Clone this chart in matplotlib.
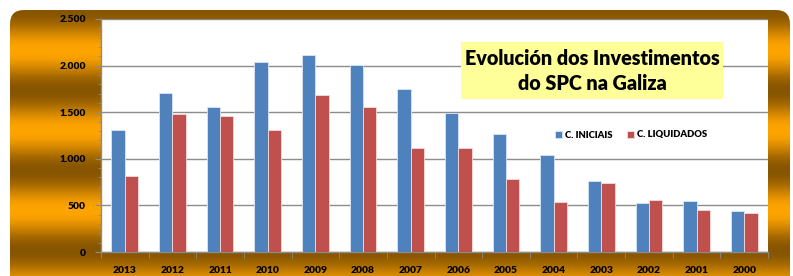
import numpy as np
import matplotlib
matplotlib.use("Agg")
import matplotlib.pyplot as plt
from matplotlib.patches import FancyBboxPatch, Rectangle
from matplotlib.ticker import FuncFormatter, MultipleLocator, FixedLocator

years = ["2013", "2012", "2011", "2010", "2009", "2008", "2007",
         "2006", "2005", "2004", "2003", "2002", "2001", "2000"]
iniciais = [1307, 1702, 1555, 2038, 2113, 2002, 1748,
            1494, 1261, 1042, 760, 530, 548, 440]
liquidados = [813, 1476, 1455, 1307, 1680, 1555, 1121,
              1114, 784, 541, 738, 555, 448, 423]
title_text = "Evolución dos Investimentos\ndo SPC na Galiza"
series_names = ["C. INICIAIS", "C. LIQUIDADOS"]

W, H = 793, 276
BLUE = "#4F81BD"
RED = "#C0504D"
FONT = ["Lato", "DejaVu Sans"]

fig = plt.figure(figsize=(W / 100, H / 100), dpi=100)
fig.patch.set_facecolor("white")

# background frame with horizontal gold stripes
bg = fig.add_axes([0, 0, 1, 1], zorder=-5)
bg.axis("off")
yy = np.arange(H + 20)
phase = np.cos(2 * np.pi * (yy - 10) / 80.0)  # 1 = dark, -1 = orange
t = (phase + 1) / 2
dark = np.array([135, 85, 0]) / 255
orange = np.array([255, 165, 0]) / 255
cols = orange[None, :] * (1 - t[:, None]) + dark[None, :] * t[:, None]
img = np.repeat(cols[:, None, :], 2, axis=1)
im = bg.imshow(img, extent=[0, W, H + 20, 0], aspect="auto", interpolation="bilinear")
frame = FancyBboxPatch((10, 10), 780, 290, boxstyle="round,pad=0,rounding_size=14",
                       transform=bg.transData, facecolor="none", edgecolor="none")
bg.add_patch(frame)
im.set_clip_path(frame)
bg.set_xlim(0, W)
bg.set_ylim(H, 0)

# main axes
L, R, T, B = 101, 768, 19, 252
ax = fig.add_axes([L / W, (H - B) / H, (R - L) / W, (B - T) / H])
ax.set_facecolor("white")

x = np.arange(len(years))
bw = 0.28
ax.bar(x - bw / 2, iniciais, bw, color=BLUE, edgecolor="#dce6f2", linewidth=0.6, zorder=3,
       label=series_names[0])
ax.bar(x + bw / 2, liquidados, bw, color=RED, edgecolor="#f2dcdb", linewidth=0.6, zorder=3,
       label=series_names[1])

ax.set_xlim(-0.5, len(years) - 0.5)
ax.set_ylim(0, 2500)

ax.yaxis.set_major_locator(MultipleLocator(500))
ax.yaxis.set_minor_locator(MultipleLocator(100))
ax.yaxis.set_major_formatter(FuncFormatter(lambda v, p: f"{int(v):,}".replace(",", ".")))
ax.grid(axis="y", which="major", color="#8c8c8c", linewidth=1.0, zorder=1)

ax.set_xticks(x)
ax.set_xticklabels(years)
ax.xaxis.set_minor_locator(FixedLocator(np.arange(-0.5, len(years), 1.0)))
ax.tick_params(axis="x", which="major", length=0, pad=10)
ax.tick_params(axis="x", which="minor", length=4, color="#8c8c8c", direction="out")
ax.tick_params(axis="y", which="major", length=4, color="#8c8c8c", pad=7)
ax.tick_params(axis="y", which="minor", length=2.5, color="#8c8c8c")

for lab in ax.get_xticklabels() + ax.get_yticklabels():
    lab.set_fontfamily(FONT)
    lab.set_fontweight("heavy")
    lab.set_fontsize(7.4)
    lab.set_color("black")

for s in ["top", "right"]:
    ax.spines[s].set_visible(False)
for s in ["left", "bottom"]:
    ax.spines[s].set_color("#8c8c8c")
    ax.spines[s].set_linewidth(1.0)

# title box
fig.add_artist(Rectangle((461 / W, 1 - 99 / H), 262 / W, 57 / H, transform=fig.transFigure,
                         facecolor="#FFFF99", edgecolor="none", zorder=10))
fig.text(592 / W, 1 - 71 / H, title_text, ha="center", va="center",
         fontsize=14.2, fontweight="heavy", family=FONT, linespacing=1.38, zorder=20)

# legend
leg = ax.legend(loc="center", bbox_to_anchor=((631 - L) / (R - L), (B - 135) / (B - T)),
                ncol=2, frameon=False, handlelength=0.7, handleheight=0.7,
                handletextpad=0.3, columnspacing=1.6,
                prop=dict(family=FONT, weight="heavy", size=6.8))

fig.savefig("out.png", dpi=100)
